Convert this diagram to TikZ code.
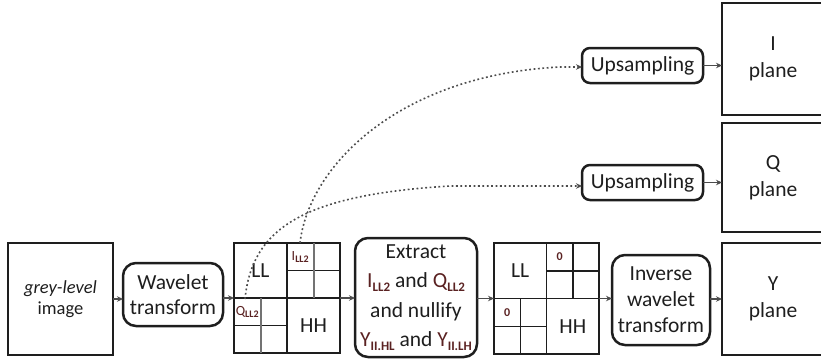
\documentclass[tikz,border=0pt]{standalone}
\usepackage{fontspec}
\setmainfont{Carlito}
\usetikzlibrary{arrows.meta,calc}
\definecolor{brn}{HTML}{5A2222}
\definecolor{ink}{HTML}{1E1E1E}
\newcommand{\lowsub}[1]{\raisebox{-0.35ex}{\fontsize{13}{13}\selectfont\bfseries #1}}
\newcommand{\gsub}[1]{\raisebox{-0.35ex}{\fontsize{10}{10}\selectfont\bfseries #1}}
\begin{document}
\begin{tikzpicture}[x=1pt,y=-1pt,
  box/.style={draw=ink, line width=1.5pt, inner sep=0pt, outer sep=0pt, text=ink, align=center,
    font=\fontsize{21.5}{27}\selectfont},
  rbox/.style={box, line width=2.5pt, rounded corners=13pt},
  grid/.style={draw=ink, line width=1.6pt, inner sep=0pt, outer sep=0pt},
  lbl/.style={font=\fontsize{21.5}{24}\selectfont, text=ink, inner sep=0pt},
  sublbl/.style={font=\fontsize{14}{14}\selectfont, text=brn, inner sep=0pt},
  cellline/.style={draw=ink, line width=1.5pt},
  cellg/.style={draw=black!55, line width=2pt},
  arr/.style={draw=black!70, line width=1.3pt, -{Stealth[length=6pt,width=5.5pt]}},
  dotted curve/.style={draw=black!70, line width=1.6pt, dash pattern=on 1.8pt off 2.6pt,
    -{Stealth[length=6pt,width=5.5pt]}}
]
\useasboundingbox (0,0) rectangle (821,360);

% main chain
\node[box, minimum width=105pt, minimum height=112pt, font=\fontsize{18.5}{21}\selectfont] (grey) at (60.5,299) {{\itshape grey-level}\\image};
\node[rbox, minimum width=100pt, minimum height=63pt, font=\fontsize{21.5}{25}\selectfont] (wav) at (173,294.5) {Wavelet\\transform};

% grid 1
\node[grid, minimum width=106pt, minimum height=110pt] (g1) at (287,298) {};
\coordinate (g1tr) at ($(g1.center)!0.5!(g1.north east)$);
\coordinate (g1bl) at ($(g1.center)!0.5!(g1.south west)$);
\coordinate (g1tl) at ($(g1.center)!0.5!(g1.north west)$);
\coordinate (g1br) at ($(g1.center)!0.5!(g1.south east)$);
\draw[cellline] (g1.north) -- (g1.south) (g1.west) -- (g1.east);
\draw[cellline] (g1.center |- g1tr) -- (g1.east |- g1tr);
\draw[cellg] (g1tr |- g1.north) -- (g1tr |- g1.center);
\draw[cellline] (g1.west |- g1bl) -- (g1.center |- g1bl);
\draw[cellg] (g1bl |- g1.center) -- (g1bl |- g1.south);
\node[lbl] (g1LL) at (g1tl) {LL};
\node[lbl] (g1HH) at (g1br) {HH};
\node[sublbl] (g1I) at ($(g1tr)!0.5!(g1.center |- g1.north)$) {I\gsub{LL2}};
\node[sublbl] (g1Q) at ($(g1bl)!0.5!(g1.west |- g1.center)$) {Q\gsub{LL2}};

% extract
\node[rbox, minimum width=122pt, minimum height=119pt, font=\fontsize{21.5}{29.5}\selectfont] (ext) at (416,297.5)
  {Extract\\\textcolor{brn}{I\lowsub{LL2}} and \textcolor{brn}{Q\lowsub{LL2}}\\and nullify\\\textcolor{brn}{Y\lowsub{II.HL}} and \textcolor{brn}{Y\lowsub{II.LH}}};

% grid 2
\node[grid, minimum width=105pt, minimum height=111pt] (g2) at (546.5,298.5) {};
\coordinate (g2tr) at ($(g2.center)!0.5!(g2.north east)$);
\coordinate (g2bl) at ($(g2.center)!0.5!(g2.south west)$);
\coordinate (g2tl) at ($(g2.center)!0.5!(g2.north west)$);
\coordinate (g2br) at ($(g2.center)!0.5!(g2.south east)$);
\draw[cellline] (g2.north) -- (g2.south) (g2.west) -- (g2.east);
\draw[cellline] (g2.center |- g2tr) -- (g2.east |- g2tr);
\draw[cellline] (g2tr |- g2.north) -- (g2tr |- g2.center);
\draw[cellline] (g2.west |- g2bl) -- (g2.center |- g2bl);
\draw[cellline] (g2bl |- g2.center) -- (g2bl |- g2.south);
\node[lbl] (g2LL) at (g2tl) {LL};
\node[lbl] (g2HH) at (g2br) {HH};
\node[sublbl, font=\fontsize{12}{12}\selectfont\bfseries] (g2z1) at ($(g2tr)!0.5!(g2.center |- g2.north)$) {0};
\node[sublbl, font=\fontsize{12}{12}\selectfont\bfseries] (g2z2) at ($(g2bl)!0.5!(g2.west |- g2.center)$) {0};

% inverse
\node[rbox, minimum width=98pt, minimum height=90pt, font=\fontsize{21.5}{26}\selectfont] (inv) at (661,300) {Inverse\\wavelet\\transform};

% planes
\node[box, minimum width=102pt, minimum height=112pt] (Yp) at (773,299) {Y\\plane};
\node[box, minimum width=102pt, minimum height=109pt] (Qp) at (773,177.5) {Q\\plane};
\node[box, minimum width=102pt, minimum height=112pt] (Ip) at (773,59) {I\\plane};

% upsampling
\node[rbox, rounded corners=8pt, minimum width=121pt, minimum height=35pt] (up1) at (642.5,65.5) {Upsampling};
\node[rbox, rounded corners=8pt, minimum width=121pt, minimum height=35pt] (up2) at (642.5,182.5) {Upsampling};

% arrows
\draw[arr] (grey.east |- 0,299) -- (wav.west |- 0,299);
\draw[arr] (wav.east |- g1.west) -- (g1.west);
\draw[arr] (g1.east) -- (ext.west |- g1.east);
\draw[arr] (ext.east |- g2.west) -- (g2.west);
\draw[arr] (g2.east) -- (inv.west |- g2.east);
\draw[arr] (inv.east |- Yp.west) -- (Yp.west);
\draw[arr] (up1.east) -- (Ip.west |- up1.east);
\draw[arr] (up2.east) -- (Qp.west |- up2.east);

% dotted curves
\coordinate (qs) at (245,299);
\coordinate (is) at (300,243);
\draw[dotted curve] (qs) .. controls (252,230) and (300,195) .. (450,186) -- (up2.west |- 0,186);
\draw[dotted curve] (is) .. controls (309,165) and (400,75) .. (560,67) -- (up1.west |- 0,67);
\end{tikzpicture}
\end{document}
